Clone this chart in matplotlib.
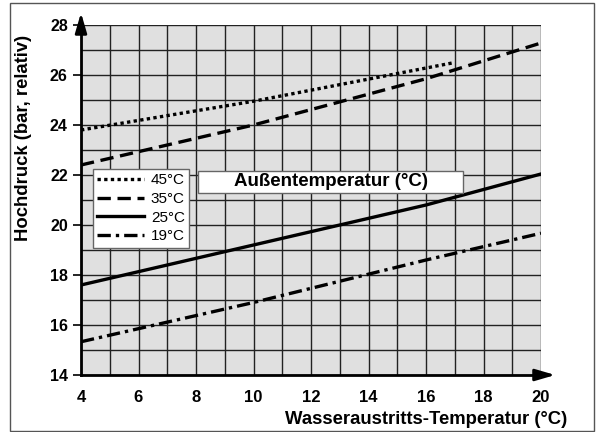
import matplotlib.pyplot as plt
import matplotlib.patches as patches

plt.rcParams['font.family'] = ['Liberation Sans', 'DejaVu Sans']

# Außentemperatur-Kurven: Wasseraustritts-Temperatur (°C) -> Hochdruck (bar)
x_45 = [4, 10, 17]
y_45 = [23.8, 24.95, 26.5]
x_35 = [4, 10, 16, 20]
y_35 = [22.4, 24.0, 25.85, 27.28]
x_25 = [4, 10, 16, 20]
y_25 = [17.6, 19.2, 20.8, 22.04]
x_19 = [4, 10, 16, 20]
y_19 = [15.33, 16.9, 18.6, 19.67]

x_ticks = [4, 6, 8, 10, 12, 14, 16, 18, 20]
y_ticks = [14, 16, 18, 20, 22, 24, 26, 28]

fig = plt.figure(figsize=(6.06, 4.32), dpi=100)
ax = fig.add_axes([81 / 606, 1 - 375 / 432, 460 / 606, 350 / 432])

# Rahmen um die ganze Grafik
fig.patches.append(patches.Rectangle((10 / 606, 1 / 432), 584 / 606, 428 / 432,
                                     transform=fig.transFigure, fill=False,
                                     edgecolor='#555555', linewidth=1))

ax.set_facecolor('#e0e0e0')
ax.set_xlim(4, 20)
ax.set_ylim(14, 28)
ax.set_axisbelow(True)
ax.set_xticks(x_ticks)
ax.set_xticks(range(4, 21), minor=True)
ax.set_yticks(y_ticks)
ax.set_yticks(range(14, 29), minor=True)
ax.grid(True, which='both', color='#222222', linewidth=1)
ax.tick_params(which='minor', length=0)
ax.tick_params(axis='x', length=0, pad=11)
ax.tick_params(axis='y', length=6, width=1.2, pad=3.5)
ax.set_xticklabels([str(v) for v in x_ticks], fontsize=12, fontweight='bold')
ax.set_yticklabels([str(v) for v in y_ticks], fontsize=11.5, fontweight='bold')

for s in ['top', 'right']:
    ax.spines[s].set_visible(False)
for s in ['left', 'bottom']:
    ax.spines[s].set_linewidth(2)

# Achsenpfeile
arrow = dict(arrowstyle='-|>,head_length=1.2,head_width=0.35', color='black', lw=2)
ax.annotate('', xy=(0, 1.043), xytext=(0, 0.99), xycoords='axes fraction',
            arrowprops=arrow)
ax.annotate('', xy=(1.037, 0), xytext=(0.99, 0), xycoords='axes fraction',
            arrowprops=arrow)

lw = 2.4
ax.plot(x_45, y_45, color='black', lw=lw, linestyle=(0, (1, 1)), label='45°C')
ax.plot(x_35, y_35, color='black', lw=lw, linestyle=(0, (4, 2)), label='35°C')
ax.plot(x_25, y_25, color='black', lw=lw, linestyle='-', label='25°C')
ax.plot(x_19, y_19, color='black', lw=lw, linestyle=(0, (4, 1.5, 1, 1.5)), label='19°C')

leg = ax.legend(loc='upper left', bbox_to_anchor=(0.0254, 0.589), fontsize=11,
                handlelength=3.07, labelspacing=0.3, borderpad=0.3,
                handletextpad=0.44, fancybox=False, framealpha=1,
                edgecolor='#666666', borderaxespad=0)
leg.get_frame().set_linewidth(1)

ax.add_patch(patches.Rectangle((8.07, 21.28), 9.22, 0.88, facecolor='white',
                               edgecolor='#666666', linewidth=1, zorder=3))
ax.text(12.68, 21.72, 'Außentemperatur (°C)', ha='center', va='center',
        fontsize=13.5, fontweight='bold', zorder=4)

fig.text(567 / 606, 1 - 419 / 432, 'Wasseraustritts-Temperatur (°C)',
         ha='right', va='center', fontsize=13.3, fontweight='bold')
fig.text(24 / 606, 1 - 138 / 432, 'Hochdruck (bar, relativ)', rotation=90,
         ha='center', va='center', fontsize=13.3, fontweight='bold')

fig.savefig('out.png', dpi=100)
